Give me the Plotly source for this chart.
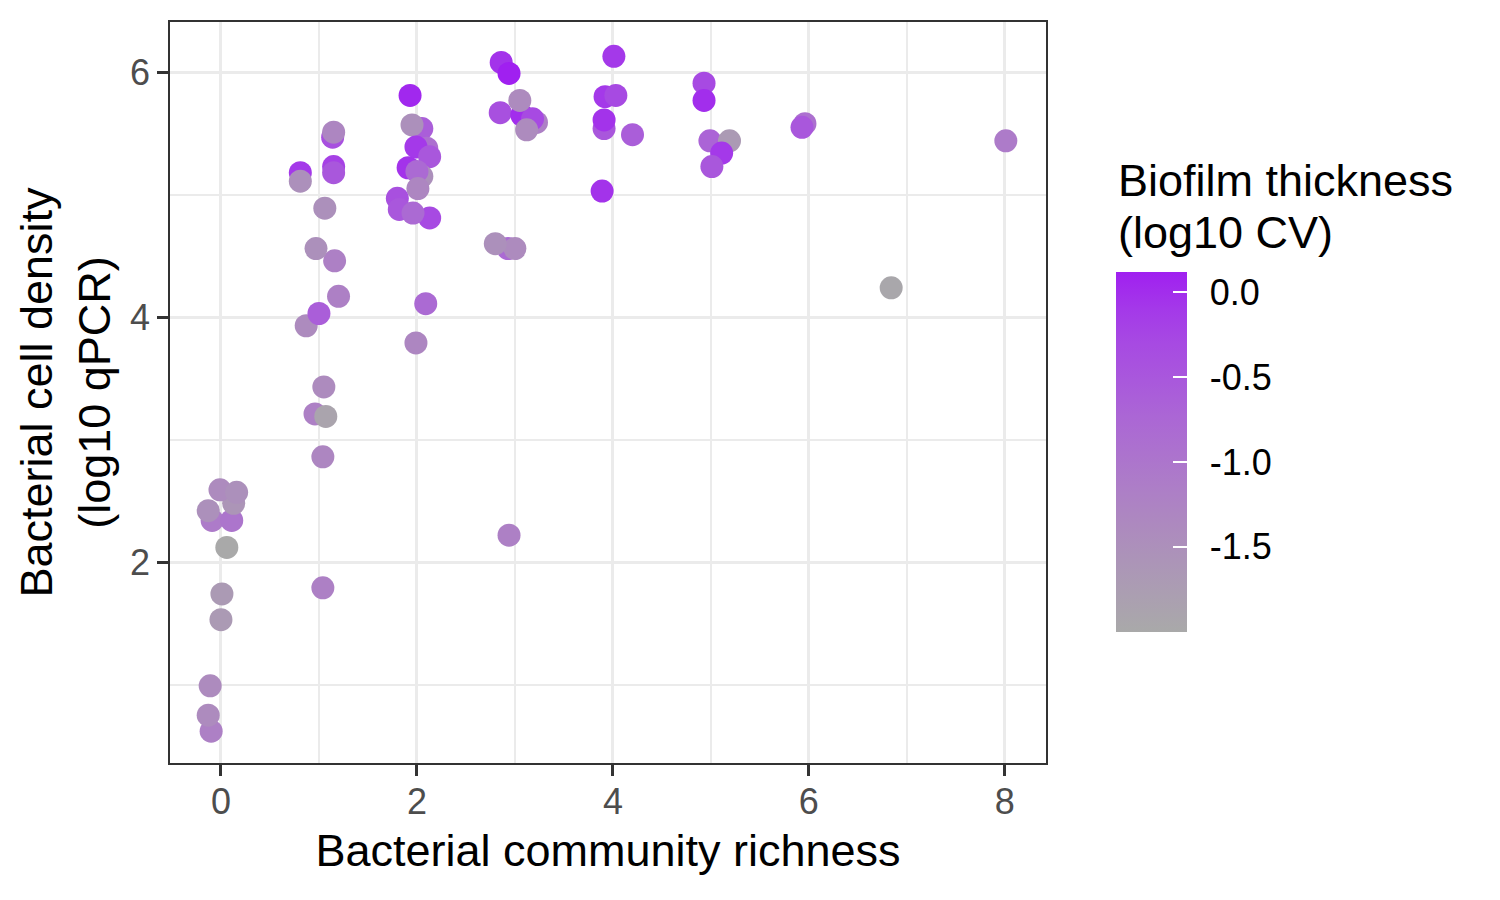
###########################################################
### Bacterial cell density vs. richness, coloured by CV ###
###########################################################

import numpy as np
import plotly.graph_objects as go

# === DATA ===
richness = [
    -0.10, -0.13, -0.11, 0.00, 0.01, 0.06, -0.09, 0.11, -0.13, 0.13, -0.01, 0.16,
    1.04, 1.04, 0.96, 1.07, 1.05, 0.87, 1.00, 1.20, 1.16, 0.97, 1.06,
    0.81, 0.81, 1.15, 1.15, 1.14, 1.15,
    1.93, 2.05, 1.95, 2.10, 1.99, 2.13, 1.91, 2.05, 2.00, 2.01,
    1.80, 1.82, 2.13, 1.96, 2.09, 1.99,
    2.86, 2.94, 2.85, 3.07, 3.22, 3.18, 3.12, 3.05, 2.93, 3.00, 2.80, 2.94,
    4.01, 3.92, 4.03, 3.91, 3.91, 4.20, 3.89,
    4.93, 4.93, 4.99, 5.19, 5.11, 5.01, 5.96, 5.93, 6.84, 8.01,
]
density = [
    0.62, 0.75, 0.99, 1.53, 1.74, 2.12, 2.34, 2.34, 2.42, 2.48, 2.59, 2.57,
    1.79, 2.86, 3.21, 3.19, 3.43, 3.93, 4.03, 4.17, 4.46, 4.56, 4.89,
    5.18, 5.11, 5.23, 5.18, 5.47, 5.51,
    5.81, 5.54, 5.57, 5.38, 5.39, 5.31, 5.22, 5.15, 5.19, 5.05,
    4.97, 4.88, 4.81, 4.85, 4.11, 3.79,
    6.08, 5.99, 5.67, 5.65, 5.59, 5.62, 5.53, 5.77, 4.56, 4.56, 4.60, 2.22,
    6.13, 5.80, 5.81, 5.54, 5.61, 5.49, 5.03,
    5.91, 5.77, 5.44, 5.44, 5.34, 5.23, 5.58, 5.55, 4.24, 5.44,
]
thickness = [
    -1.2, -1.4, -1.4, -1.7, -1.7, -2.0, -1.1, -1.0, -1.5, -1.6, -1.4, -1.5,
    -1.2, -1.3, -1.2, -1.9, -1.4, -1.4, -0.6, -1.2, -1.2, -1.5, -1.5,
    -0.1, -1.5, -0.2, -0.5, -0.4, -1.3,
    0.05, -0.6, -1.5, -0.9, -0.1, -0.5, -0.05, -1.5, -0.8, -1.3,
    -0.4, -0.5, -0.3, -0.8, -0.8, -1.3,
    -0.05, 0.12, -0.4, 0.0, -1.2, -0.3, -1.4, -1.4, -0.8, -1.4, -1.5, -1.2,
    -0.1, -0.1, -0.3, -0.5, -0.05, -0.6, -0.05,
    -0.3, 0.0, -0.7, -1.7, -0.1, -0.5, -0.9, -0.5, -1.95, -1.1,
]

CB_TICKS = [0.0, -0.5, -1.0, -1.5]
CB_TICKTEXT = ["0.0", "-0.5", "-1.0", "-1.5"]
LEGEND_TITLE = ["Biofilm thickness", "(log10 CV)"]

# === CONFIG ===
FONT = "Liberation Sans"
LOW, HIGH = "#A9A9A9", "#A020F0"   # darkgray -> purple
GRID = "#EBEBEB"
CMIN, CMAX = min(thickness), max(thickness)


# ggplot interpolates gradients in Lab space, plotly in RGB: build Lab stops
def hex_to_lab(h):
    rgb = np.array([int(h[i:i + 2], 16) / 255 for i in (1, 3, 5)])
    lin = np.where(rgb <= 0.04045, rgb / 12.92, ((rgb + 0.055) / 1.055) ** 2.4)
    m = np.array([[0.4124, 0.3576, 0.1805],
                  [0.2126, 0.7152, 0.0722],
                  [0.0193, 0.1192, 0.9505]])
    xyz = m @ lin / np.array([0.95047, 1.0, 1.08883])
    f = np.where(xyz > 0.008856, np.cbrt(xyz), 7.787 * xyz + 16 / 116)
    return np.array([116 * f[1] - 16, 500 * (f[0] - f[1]), 200 * (f[1] - f[2])])


def lab_to_hex(lab):
    fy = (lab[0] + 16) / 116
    f = np.array([fy + lab[1] / 500, fy, fy - lab[2] / 200])
    xyz = np.where(f ** 3 > 0.008856, f ** 3, (f - 16 / 116) / 7.787)
    xyz = xyz * np.array([0.95047, 1.0, 1.08883])
    m = np.array([[3.2406, -1.5372, -0.4986],
                  [-0.9689, 1.8758, 0.0415],
                  [0.0557, -0.2040, 1.0570]])
    lin = np.clip(m @ xyz, 0, 1)
    rgb = np.where(lin <= 0.0031308, 12.92 * lin, 1.055 * lin ** (1 / 2.4) - 0.055)
    return "#" + "".join(f"{int(round(v * 255)):02X}" for v in rgb)


lo_lab, hi_lab = hex_to_lab(LOW), hex_to_lab(HIGH)
colorscale = [[t, lab_to_hex(lo_lab + t * (hi_lab - lo_lab))] for t in np.linspace(0, 1, 11)]

# shared colourbar geometry (paper coords of a 876 x 741 px panel)
cb_pos = dict(x=1.08, xanchor="left", xpad=0, y=0.42, yanchor="middle", ypad=0,
              len=360, lenmode="pixels", thickness=71, outlinewidth=0,
              tickvals=CB_TICKS)

# === Figure ===
fig = go.Figure()
fig.add_trace(go.Scatter(
    x=richness,
    y=density,
    mode="markers",
    marker=dict(
        size=23,
        color=thickness,
        colorscale=colorscale,
        cmin=CMIN, cmax=CMAX,
        line=dict(width=0),
        colorbar=dict(**cb_pos, showticklabels=False,
                      ticks="inside", ticklen=14, tickwidth=1.5, tickcolor="white"),
    ),
    showlegend=False,
    hoverinfo="x+y",
))

# transparent twin colourbar that only carries the labels (pushed off the bar)
fig.add_trace(go.Scatter(
    x=[None], y=[None],
    mode="markers",
    marker=dict(
        color=[CMIN],
        colorscale=[[0, "rgba(0,0,0,0)"], [1, "rgba(0,0,0,0)"]],
        cmin=CMIN, cmax=CMAX,
        colorbar=dict(**cb_pos, ticktext=CB_TICKTEXT,
                      ticks="outside", ticklen=16, tickcolor="rgba(0,0,0,0)",
                      tickfont=dict(family=FONT, size=36, color="black")),
    ),
    showlegend=False,
    hoverinfo="skip",
))

axis_common = dict(
    showgrid=True, gridcolor=GRID, gridwidth=3,
    zeroline=False,
    showline=True, linecolor="#333333", linewidth=1.5, mirror=True,
    ticks="outside", ticklen=11, tickwidth=2.5, tickcolor="#333333",
    tickfont=dict(family=FONT, size=36, color="#4D4D4D"),
)

fig.update_xaxes(
    **axis_common,
    range=[-0.52, 8.42],
    tickvals=[0, 2, 4, 6, 8],
    ticklabelstandoff=-5,
    minor=dict(dtick=1, tick0=1, showgrid=True, gridcolor=GRID, gridwidth=1.5, ticks=""),
    title=dict(text="Bacterial community richness", standoff=14,
               font=dict(family=FONT, size=45, color="black")),
)
fig.update_yaxes(
    **axis_common,
    range=[0.36, 6.41],
    tickvals=[2, 4, 6],
    minor=dict(dtick=1, tick0=1, showgrid=True, gridcolor=GRID, gridwidth=1.5, ticks=""),
    title=dict(text="Bacterial cell density<br>(log10 qPCR)", standoff=5,
               font=dict(family=FONT, size=45, color="black")),
)

# legend title as two lines, tighter spacing than plotly's default
for line, ytop in zip(LEGEND_TITLE, [0.823, 0.753]):
    fig.add_annotation(
        text=line,
        xref="paper", yref="paper", x=1.08, y=ytop,
        xanchor="left", yanchor="top", align="left", showarrow=False,
        font=dict(family=FONT, size=45, color="black"),
    )

# page body adds an 8px offset, margins below are compensated for it
fig.update_layout(
    width=1500, height=900,
    plot_bgcolor="white",
    paper_bgcolor="white",
    margin=dict(l=162, r=462, t=14, b=145, autoexpand=False),
    font=dict(family=FONT),
)

fig.write_html("out.html")
